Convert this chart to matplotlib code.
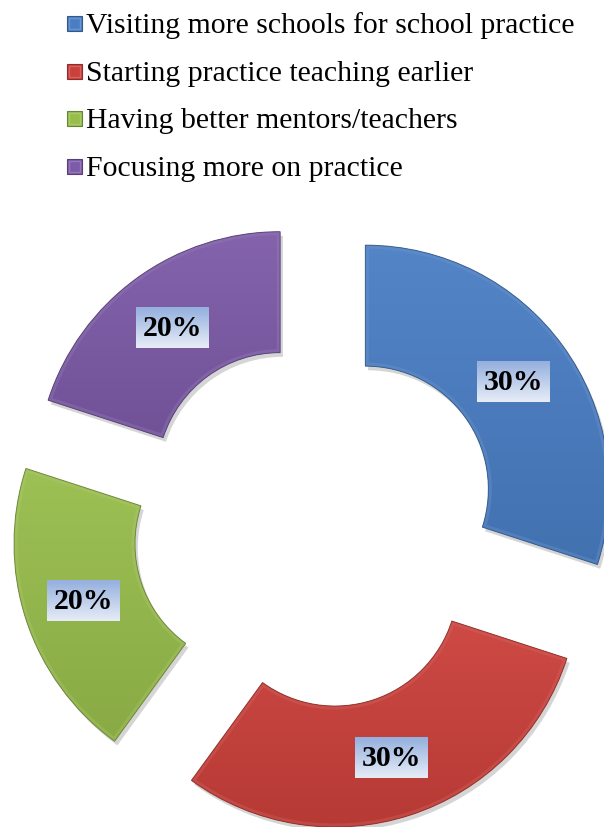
import numpy as np
import matplotlib
matplotlib.use("Agg")
import matplotlib.pyplot as plt
import matplotlib.patheffects as pe
from matplotlib.patches import Rectangle, Wedge
from matplotlib.colors import to_rgb

# ---- data -------------------------------------------------------------
categories = [
    "Visiting more schools for school practice",
    "Starting practice teaching earlier",
    "Having better mentors/teachers",
    "Focusing more on practice",
]
shares = [30, 30, 20, 20]
colors = ["#4a7ec4", "#cb403b", "#98bd4c", "#7d5ba8"]

# ---- canvas (data units == pixels) ------------------------------------
W, H = 604, 827
fig = plt.figure(figsize=(W / 100, H / 100), dpi=100)
ax = fig.add_axes([0, 0, 1, 1])
ax.axis("off")

R = 244           # outer radius
ring = 121        # ring thickness
gap = 61          # explode distance
cx, cy = 316, H - 525


def shade(c, f):
    r, g, b = to_rgb(c)
    if f >= 1:
        return tuple(min(1, v + (1 - v) * (f - 1)) for v in (r, g, b))
    return tuple(v * f for v in (r, g, b))


wedges, _, pct_texts = ax.pie(
    shares,
    colors=colors,
    startangle=90,
    counterclock=False,
    radius=R,
    center=(cx, cy),
    explode=[gap] * len(shares),
    wedgeprops=dict(width=ring, linewidth=0),
    autopct=lambda p: f"{p:.0f}%",
    pctdistance=0.75,
    textprops=dict(fontfamily="Liberation Serif", fontweight="bold",
                   fontsize=21.5, color="black"),
    frame=True,
)

for w, c in zip(wedges, colors):
    w.set_zorder(2)
    w.set_path_effects([
        pe.SimplePatchShadow(offset=(2, -3), shadow_rgbFace=(0.35, 0.35, 0.35), alpha=0.25),
        pe.Normal(),
    ])
    # vertical gradient: lighter at top, darker at bottom
    bb = w.get_path().get_extents()
    n = 64
    top = np.array(shade(c, 1.05))
    bot = np.array(shade(c, 0.9))
    t = np.linspace(0, 1, n)[:, None]
    grad = (bot * (1 - t) + top * t)[:, None, :]
    im = ax.imshow(grad, extent=[bb.x0, bb.x1, bb.y0, bb.y1], origin="lower",
                   aspect="auto", interpolation="bicubic", zorder=2.1)
    im.set_clip_path(w)
    # bevel: soft light inner rim and thin dark outline
    rim = Wedge(w.center, w.r, w.theta1, w.theta2, width=w.width,
                facecolor="none", edgecolor=shade(c, 1.2), linewidth=5,
                alpha=0.35, zorder=2.2)
    ax.add_patch(rim)
    rim.set_clip_path(w)
    edge = Wedge(w.center, w.r, w.theta1, w.theta2, width=w.width,
                 facecolor="none", edgecolor=shade(c, 0.65), linewidth=0.7,
                 alpha=0.8, zorder=2.3)
    ax.add_patch(edge)

# label boxes with a soft blue gradient
bw, bh = 73, 41
box_top = np.array(to_rgb("#95b0de"))
box_bot = np.array(to_rgb("#e6ecf7"))
tt = np.linspace(0, 1, 32)[:, None]
box_grad = (box_bot * (1 - tt) + box_top * tt)[:, None, :]
for txt in pct_texts:
    x, y = txt.get_position()
    ax.imshow(box_grad, extent=[x - bw / 2, x + bw / 2, y - bh / 2, y + bh / 2],
              origin="lower", aspect="auto", interpolation="bicubic", zorder=3)
    txt.set_zorder(4)
    txt.set_position((x, y - 1))

# legend drawn at the top
leg_x_box, leg_x_text = 67, 86
baseline0, step = 33, 47.7
for i, (lab, c) in enumerate(zip(categories, colors)):
    base = H - (baseline0 + i * step)
    ax.add_patch(Rectangle((leg_x_box, base + 2), 15, 15, facecolor=c,
                           edgecolor=shade(c, 0.7), linewidth=0.8, zorder=3))
    ax.add_patch(Rectangle((leg_x_box + 2, base + 4), 11, 11, facecolor="none",
                           edgecolor=shade(c, 1.3), linewidth=1.0, alpha=0.6, zorder=3.1))
    ax.text(leg_x_text, base, lab, fontfamily="Liberation Serif", fontsize=21.4,
            va="baseline", ha="left", color="black", zorder=3)

ax.set_xlim(0, W)
ax.set_ylim(0, H)
ax.set_aspect("auto")
ax.axis("off")
fig.savefig("out.png", dpi=100)
